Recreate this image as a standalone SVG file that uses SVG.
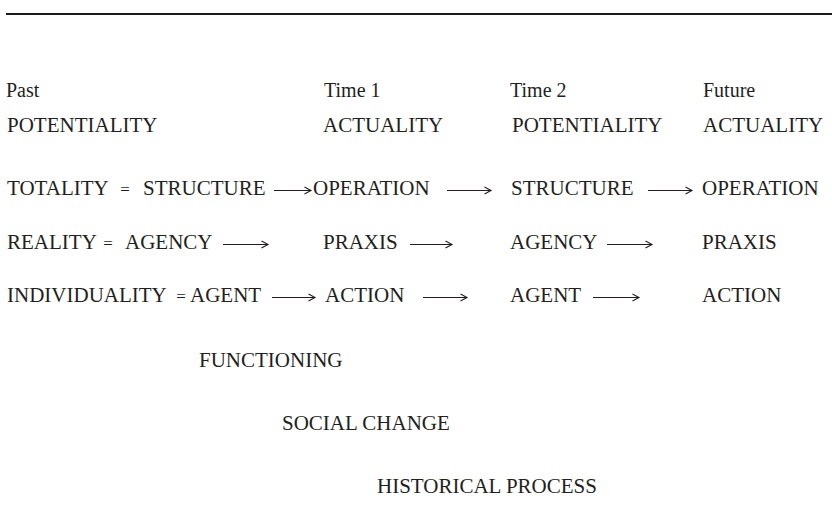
<svg xmlns="http://www.w3.org/2000/svg" width="832" height="520" viewBox="0 0 832 520">
  <style>
    .t { font-family: "Liberation Serif", "Times New Roman", serif; font-size: 21px; fill: #231f20; }
    .h { font-size: 20px; }
    .eq { font-size: 17px; text-anchor: middle; }
    .rule { stroke: #1a1a1a; stroke-width: 2; }
    .arr { fill: none; stroke: #231f20; stroke-width: 1.1; stroke-linecap: butt; stroke-linejoin: miter; }
  </style>
  <defs>
    <!-- small typographic chevron used at the end of each dash arrow -->
    <path id="chev" d="M -6.5 -3.5 L 0 0 L -6.5 3.5" />
  </defs>

  <rect width="832" height="520" fill="#ffffff"/>
  <line class="rule" x1="6" y1="14" x2="832" y2="14"/>

  <!-- column headings -->
  <g id="heading-past"><text class="t h" x="6" y="97">Past</text></g>
  <g id="heading-time1"><text class="t h" x="324" y="97">Time 1</text></g>
  <g id="heading-time2"><text class="t h" x="510" y="97">Time 2</text></g>
  <g id="heading-future"><text class="t h" x="703" y="97">Future</text></g>

  <!-- modality row -->
  <g id="potentiality-1"><text class="t" x="7" y="132">POTENTIALITY</text></g>
  <g id="actuality-1"><text class="t" x="323" y="132">ACTUALITY</text></g>
  <g id="potentiality-2"><text class="t" x="512" y="132">POTENTIALITY</text></g>
  <g id="actuality-2"><text class="t" x="703" y="132">ACTUALITY</text></g>

  <!-- totality row -->
  <g id="totality"><text class="t" x="7" y="195">TOTALITY</text><text class="t eq" x="125" y="195">=</text></g>
  <g id="structure-1"><text class="t" x="143" y="195">STRUCTURE</text></g>
  <g id="operation-1"><text class="t" x="313" y="195">OPERATION</text></g>
  <g id="structure-2"><text class="t" x="511" y="195">STRUCTURE</text></g>
  <g id="operation-2"><text class="t" x="702" y="195">OPERATION</text></g>

  <!-- reality row -->
  <g id="reality"><text class="t" x="7" y="249">REALITY</text><text class="t eq" x="108" y="249">=</text></g>
  <g id="agency-1"><text class="t" x="125" y="249">AGENCY</text></g>
  <g id="praxis-1"><text class="t" x="323" y="249">PRAXIS</text></g>
  <g id="agency-2"><text class="t" x="510" y="249">AGENCY</text></g>
  <g id="praxis-2"><text class="t" x="702" y="249">PRAXIS</text></g>

  <!-- individuality row -->
  <g id="individuality"><text class="t" x="7" y="302">INDIVIDUALITY</text><text class="t eq" x="181" y="302">=</text></g>
  <g id="agent-1"><text class="t" x="190" y="302">AGENT</text></g>
  <g id="action-1"><text class="t" x="325" y="302">ACTION</text></g>
  <g id="agent-2"><text class="t" x="510" y="302">AGENT</text></g>
  <g id="action-2"><text class="t" x="702" y="302">ACTION</text></g>

  <!-- processes -->
  <g id="functioning"><text class="t" x="199" y="367">FUNCTIONING</text></g>
  <g id="social-change"><text class="t" x="282" y="430">SOCIAL CHANGE</text></g>
  <g id="historical-process"><text class="t" x="377" y="493">HISTORICAL PROCESS</text></g>

  <!-- dash arrows between successive states -->
  <g id="connectors" class="arr">
    <path d="M 274 190.5 H 311"/><use href="#chev" x="311" y="190.5"/>
    <path d="M 447 190.5 H 491"/><use href="#chev" x="491" y="190.5"/>
    <path d="M 648 190.5 H 692"/><use href="#chev" x="692" y="190.5"/>

    <path d="M 223 244.5 H 268"/><use href="#chev" x="268" y="244.5"/>
    <path d="M 410 244.5 H 452"/><use href="#chev" x="452" y="244.5"/>
    <path d="M 607 244.5 H 652"/><use href="#chev" x="652" y="244.5"/>

    <path d="M 272 297.5 H 315"/><use href="#chev" x="315" y="297.5"/>
    <path d="M 423 297.5 H 467"/><use href="#chev" x="467" y="297.5"/>
    <path d="M 593 297.5 H 639"/><use href="#chev" x="639" y="297.5"/>
  </g>
</svg>
